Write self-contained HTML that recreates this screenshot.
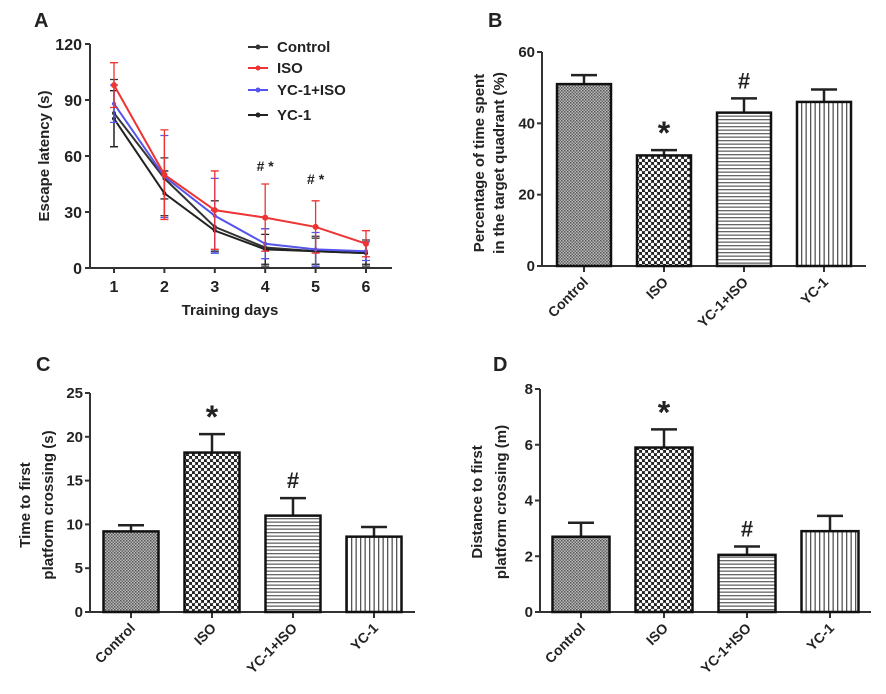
<!DOCTYPE html>
<html><head><meta charset="utf-8"><style>
body{margin:0;background:#fff;}
svg{display:block;font-family:"Liberation Sans",Arial,sans-serif;}
text{font-weight:bold;fill:#222;}
</style></head><body>
<svg id="fig" width="886" height="694" viewBox="0 0 886 694">
<defs>
<pattern id="pCtrl" width="3" height="3" patternUnits="userSpaceOnUse"><rect width="3" height="3" fill="#bbb"/><rect width="1.5" height="1.5" fill="#555"/><rect x="1.5" y="1.5" width="1.5" height="1.5" fill="#666"/></pattern>
<pattern id="pIso" width="6" height="6" patternUnits="userSpaceOnUse"><rect width="6" height="6" fill="#222"/><circle cx="1.5" cy="1.5" r="1.75" fill="#fff"/><circle cx="4.5" cy="4.5" r="1.75" fill="#fff"/></pattern>
<pattern id="pYcIso" width="4" height="3.5" patternUnits="userSpaceOnUse"><rect width="4" height="3.5" fill="#fff"/><rect width="4" height="1.3" fill="#666"/></pattern>
<pattern id="pYc" width="4.5" height="4" patternUnits="userSpaceOnUse"><rect width="4.5" height="4" fill="#fff"/><rect width="1.3" height="4" fill="#555"/></pattern>
</defs>
</svg>
<script>
// Panel A data
const days = [1,2,3,4,5,6];
const aTicks = [0,30,60,90,120];
const ctrlVals = [83,48,22,11,9,8];
const ctrlErr = [18,11,14,10,8,7];
const isoVals = [98,50,31,27,22,13];
const isoErr = [12,24,21,18,14,7];
const ycIsoVals = [88,49,28,13,10,9];
const ycIsoErr = [10,22,20,8,9,5];
const yc1Vals = [80,40,20,10,9,8];
const yc1Err = [15,12,11,8,7,6];
const aSeriesNames = ["Control","ISO","YC-1+ISO","YC-1"];
const aAnnotDays = [4,5];
const aAnnotVals = [52,45];
// Bar panels data
const groups = ["Control","ISO","YC-1+ISO","YC-1"];
const bVals = [51,31,43,46];
const bErr = [2.5,1.5,4,3.5];
const bTicks = [0,20,40,60];
const bMarks = ["","*","#",""];
const cVals = [9.2,18.2,11,8.6];
const cErr = [0.7,2.1,2,1.1];
const cTicks = [0,5,10,15,20,25];
const cMarks = ["","*","#",""];
const dVals = [2.7,5.9,2.05,2.9];
const dErr = [0.5,0.65,0.3,0.55];
const dTicks = [0,2,4,6,8];
const dMarks = ["","*","#",""];

const NS="http://www.w3.org/2000/svg";
const svg=document.getElementById('fig');
function el(tag,attrs,parent,txt){const e=document.createElementNS(NS,tag);for(const k in attrs)e.setAttribute(k,attrs[k]);if(txt!==undefined)e.textContent=txt;(parent||svg).appendChild(e);return e;}

// ---------- Panel A ----------
(function(){
  const g=el('g',{});
  
  
  const x0=90,yb=268,yt=44,xd1=114,xd6=366;
  const X=d=>xd1+(d-1)*(xd6-xd1)/5;
  const Y=v=>yb-(v/120)*(yb-yt);
  const lbl=el('text',{x:34,y:27,'font-size':20},g,'A');
  
  el('line',{x1:x0,y1:yt,x2:x0,y2:yb,stroke:'#333','stroke-width':2},g);
  el('line',{x1:x0,y1:yb,x2:392,y2:yb,stroke:'#333','stroke-width':2},g);
  aTicks.forEach(t=>{
    el('line',{x1:x0-5,y1:Y(t),x2:x0,y2:Y(t),stroke:'#333','stroke-width':2},g);
    const tt=el('text',{x:x0-8,y:Y(t)+6,'font-size':16,'text-anchor':'end'},g,String(t));
    
  });
  days.forEach(d=>{
    el('line',{x1:X(d),y1:yb,x2:X(d),y2:yb+5,stroke:'#333','stroke-width':2},g);
    const tt=el('text',{x:X(d),y:yb+24,'font-size':16,'text-anchor':'middle'},g,String(d));
    
  });
  const xt=el('text',{x:230,y:315,'font-size':15,'text-anchor':'middle'},g,'Training days');
  
  const yt2=el('text',{x:0,y:0,'font-size':15,'text-anchor':'middle',transform:'translate(49,156) rotate(-90)'},g,'Escape latency (s)');
  
  const series=[[ctrlVals,ctrlErr,'#333'],[yc1Vals,yc1Err,'#222'],[ycIsoVals,ycIsoErr,'#5555ee'],[isoVals,isoErr,'#ee3333']];
  const sNames=['control-line','yc1-line','yc1-iso-line','iso-line'];
  series.forEach((s,i)=>{
    const [v,e,c]=s;
    days.forEach((d,j)=>{
      const eb=el('path',{d:`M${X(d)},${Y(v[j]+e[j])}V${Y(Math.max(0,v[j]-e[j]))}M${X(d)-4},${Y(v[j]+e[j])}h8M${X(d)-4},${Y(Math.max(0,v[j]-e[j]))}h8`,stroke:c,'stroke-width':1.3,fill:'none'},g);
      
    });
    const p=el('polyline',{points:days.map((d,j)=>X(d)+','+Y(v[j])).join(' '),stroke:c,'stroke-width':2,fill:'none'},g);
    
    days.forEach((d,j)=>{
      const m=el('circle',{cx:X(d),cy:Y(v[j]),r:c==='#ee3333'?3:2,fill:c},g);
      
    });
  });
  aAnnotDays.forEach((d,i)=>{
    const t=el('text',{x:X(d),y:Y(aAnnotVals[i]),'font-size':14,'text-anchor':'middle',fill:'#444'},g,'# *');
    
  });
  const lc=['#333','#ee3333','#5555ee','#222'];
  const ly=[47,68,90,115];
  aSeriesNames.forEach((n,i)=>{
    const lg=el('g',{},g);
    
    el('line',{x1:248,y1:ly[i],x2:268,y2:ly[i],stroke:lc[i],'stroke-width':2},lg);
    el('circle',{cx:258,cy:ly[i],r:2.5,fill:lc[i]},lg);
    el('text',{x:277,y:ly[i]+5,'font-size':15},lg,n);
  });
})();

// ---------- Bar panels ----------
const pats=['url(#pCtrl)','url(#pIso)','url(#pYcIso)','url(#pYc)'];
function barPanel(o){
  const g=el('g',{});
  
  
  const Y=v=>o.yb-(v/o.max)*(o.yb-o.yt);
  const l=el('text',{x:o.lx,y:o.ly,'font-size':20},g,o.letter);
  
  el('line',{x1:o.x0,y1:o.yt,x2:o.x0,y2:o.yb,stroke:'#333','stroke-width':2},g);
  el('line',{x1:o.x0,y1:o.yb,x2:o.xend,y2:o.yb,stroke:'#333','stroke-width':2},g);
  o.ticks.forEach(t=>{
    el('line',{x1:o.x0-5,y1:Y(t),x2:o.x0,y2:Y(t),stroke:'#333','stroke-width':2},g);
    const tt=el('text',{x:o.x0-7,y:Y(t)+5,'font-size':15,'text-anchor':'end',fill:'#333'},g,String(t));
    
  });
  o.titles.forEach((t,i)=>{
    const tt=el('text',{x:0,y:0,'font-size':15,'text-anchor':'middle',transform:`translate(${o.tx[i]},${o.ty}) rotate(-90)`},g,t);
    
  });
  groups.forEach((gname,i)=>{
    const cx=o.c0+i*o.sp, w=o.bw, v=o.vals[i], e=o.err[i];
    el('line',{x1:cx,y1:o.yb,x2:cx,y2:o.yb+6,stroke:'#333','stroke-width':2},g);
    const eb=el('path',{d:`M${cx},${Y(v)}V${Y(v+e)}M${cx-13},${Y(v+e)}h26`,stroke:'#222','stroke-width':2.5,fill:'none'},g);
    
    const r=el('rect',{x:cx-w/2,y:Y(v),width:w,height:o.yb-Y(v),fill:pats[i],stroke:'#111','stroke-width':2.5},g);
    
    if(o.marks[i]){
      const m=el('text',{x:cx,y:Y(v+e)-(o.marks[i]==='*'?6:10),'font-size':o.marks[i]==='*'?32:22,'text-anchor':'middle','font-weight':'normal',fill:'#444'},g,o.marks[i]);
      
    }
    const cl=el('text',{x:0,y:0,'font-size':14,'text-anchor':'end',transform:`translate(${cx+5},${o.yb+17}) rotate(-45)`},g,gname);
    
  });
}
barPanel({name:'panel-b-bar-chart',letter:'B',lx:488,ly:27,x0:542,yt:52,yb:266,xend:866,max:60,ticks:bTicks,vals:bVals,err:bErr,marks:bMarks,c0:584,sp:80,bw:54,titles:['Percentage of time spent','in the target quadrant (%)'],tx:[484,504],ty:163});
barPanel({name:'panel-c-bar-chart',letter:'C',lx:36,ly:371,x0:90,yt:393,yb:612,xend:415,max:25,ticks:cTicks,vals:cVals,err:cErr,marks:cMarks,c0:131,sp:81,bw:55,titles:['Time to first','platform crossing (s)'],tx:[30,53],ty:505});
barPanel({name:'panel-d-bar-chart',letter:'D',lx:493,ly:371,x0:540,yt:389,yb:612,xend:871,max:8,ticks:dTicks,vals:dVals,err:dErr,marks:dMarks,c0:581,sp:83,bw:57,titles:['Distance to first','platform crossing (m)'],tx:[482,506],ty:502});
</script>
</body></html>
